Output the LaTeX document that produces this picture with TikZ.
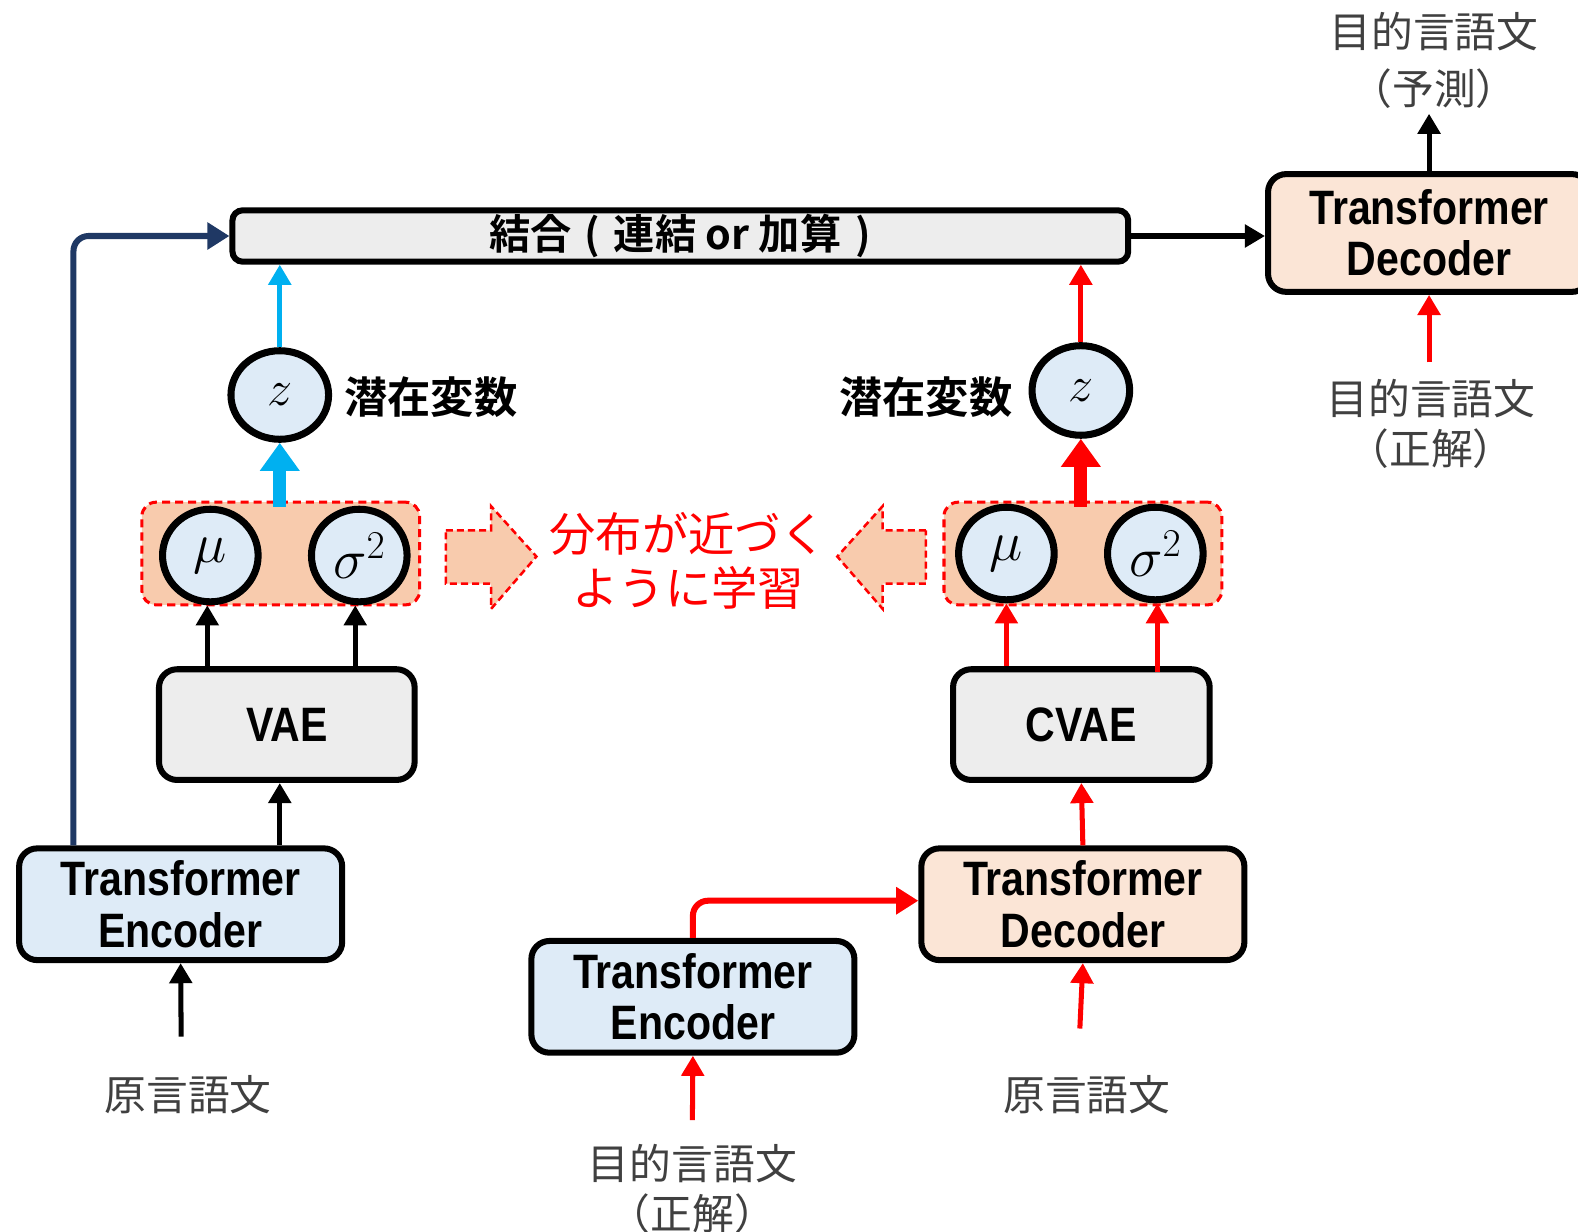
\documentclass[tikz,border=0pt]{standalone}
\usepackage{fix-cm}
\usepackage{fontspec}
\usetikzlibrary{arrows.meta,shapes.geometric}
\setmainfont{Liberation Sans}
\newfontfamily\enf[FakeStretch=0.85]{Liberation Sans}
\newfontfamily\jpf[BoldFont={Noto Sans CJK JP Bold}]{Noto Sans CJK JP}
\definecolor{lblue}{HTML}{DEEBF7}
\definecolor{peach}{HTML}{FBE5D6}
\definecolor{lgray}{HTML}{EDEDED}
\definecolor{salmon}{HTML}{F8CBAD}
\definecolor{navy}{HTML}{1F3864}
\definecolor{cyanb}{HTML}{00B0F0}
\definecolor{txtgray}{HTML}{404040}
\definecolor{myred}{HTML}{FF0000}
\tikzset{
  box/.style={draw=black, line width=6pt, rounded corners=18pt, inner sep=0pt,
    align=center, font=\enf\bfseries\fontsize{48}{51}\selectfont},
  bigbox/.style={box, minimum width=321pt, minimum height=111pt},
  circ/.style={ellipse, draw=black, line width=7pt, fill=lblue, inner sep=0pt},
  dbox/.style={draw=myred, fill=salmon, line width=3pt, dash pattern=on 8pt off 5pt,
    rounded corners=14pt, minimum width=276pt, minimum height=102pt},
  darrow/.style={draw=myred, fill=salmon, line width=2.5pt, dash pattern=on 7pt off 4pt},
  arr/.style={line width=5pt, -{Triangle[length=20pt,width=22pt]}},
  fatarr/.style={line width=13pt, -{Triangle[length=28pt,width=38pt]}},
  jtext/.style={font=\jpf\fontsize{41.5}{50}\selectfont, text=txtgray, align=center, inner sep=0pt},
  jbold/.style={font=\jpf\bfseries\fontsize{43}{50}\selectfont, inner sep=0pt},
  mathlbl/.style={font=\fontsize{56}{56}\selectfont},
  zlbl/.style={font=\fontsize{50}{50}\selectfont},
}
\begin{document}
\begin{tikzpicture}[x=1pt,y=-1pt]
\useasboundingbox (0,0) rectangle (1568,1224);
% concat bar
\node[box, fill=lgray, rounded corners=10pt, minimum width=890pt, minimum height=51pt,
  font=\jpf\bfseries\fontsize{41}{42}\selectfont] (bar) at (676,234.5) {結合\hspace{12pt}(\hspace{14pt}連結 or 加算\hspace{14pt})};
% top decoder
\node[box, fill=peach, minimum width=320pt, minimum height=117pt] (dec2) at (1420,231.5) {Transformer\\Decoder};
\node[jtext, font=\jpf\fontsize{41.5}{56}\selectfont] (pred) at (1425,60) {目的言語文\\（予測）};
\node[jtext] (tgt2) at (1422,421) {目的言語文\\（正解）};
% z nodes
\node[circ, zlbl, minimum width=97pt, minimum height=88pt] (z1) at (278,392.5) {$z$};
\node[circ, zlbl, minimum width=97pt, minimum height=89pt] (z2) at (1074,388) {$z$};
\node[jbold] (lat1) at (428,395) {潜在変数};
\node[jbold] (lat2) at (920,395) {潜在変数};
% dashed boxes
\node[dbox] (db1) at (279,550) {};
\node[dbox] (db2) at (1076,550) {};
\node[circ, mathlbl, minimum width=95pt, minimum height=92pt] (mu1) at (209,552) {$\mu$};
\node[circ, mathlbl, minimum width=95pt, minimum height=92pt] (sg1) at (357,552) {$\sigma^2$};
\node[circ, mathlbl, minimum width=95pt, minimum height=92pt] (mu2) at (1000,550) {$\mu$};
\node[circ, mathlbl, minimum width=95pt, minimum height=92pt] (sg2) at (1148,550) {$\sigma^2$};
% dashed big arrows
\draw[darrow] (443,527) -- (488,527) -- (488,503) -- (533,553) -- (488,605) -- (488,580) -- (443,580) -- cycle;
\draw[darrow] (920,527) -- (877,527) -- (877,503) -- (832,553) -- (877,605) -- (877,580) -- (920,580) -- cycle;
\node[font=\jpf\fontsize{46}{54}\selectfont, text=myred, align=center, inner sep=0pt] (learn) at (684,557) {分布が近づく\\ように学習};
% VAE / CVAE
\node[box, fill=lgray, minimum width=254pt, minimum height=110pt] (vae) at (285,720) {VAE};
\node[box, fill=lgray, minimum width=255pt, minimum height=110pt] (cvae) at (1074.5,720) {CVAE};
% encoders / decoder
\node[bigbox, fill=lblue] (enc1) at (179.5,898.5) {Transformer\\Encoder};
\node[bigbox, fill=lblue] (enc2) at (688.5,990.5) {Transformer\\Encoder};
\node[bigbox, fill=peach] (dec1) at (1076,898.5) {Transformer\\Decoder};
% bottom texts
\node[jtext] (src1) at (187,1088) {原言語文};
\node[jtext] (src2) at (1080,1088) {原言語文};
\node[jtext] (tgt1) at (688,1181) {目的言語文\\（正解）};
% free ends
\coordinate (s1) at (180,1030);
\coordinate (s2) at (688,1113);
\coordinate (s3) at (1073,1022);
\coordinate (s4) at (1420,360);
% connectors
\draw[arr] (dec2.north) -- ++(0,-57);
\draw[arr] (bar.east) -- (bar.east -| dec2.west);
\draw[arr, myred] (s4) -- (dec2.south);
\draw[arr, cyanb] (z1.north) -- (z1.north |- bar.south);
\draw[arr, myred] (z2.north) -- (z2.north |- bar.south);
\draw[fatarr, cyanb] ([yshift=-6pt]db1.north -| z1) -- (z1.south);
\draw[fatarr, myred] ([yshift=-6pt]db2.north -| z2) -- (z2.south);
\draw[arr] ([xshift=-3pt]vae.north -| mu1) -- ([xshift=-3pt]mu1.south);
\draw[arr] ([xshift=-4pt]vae.north -| sg1) -- ([xshift=-4pt]sg1.south);
\draw[arr, myred] (cvae.north -| mu2) -- (mu2.south);
\draw[arr, myred] ([yshift=-6pt,xshift=2pt]cvae.north -| sg2) -- ([xshift=2pt]sg2.south);
\draw[arr] ([xshift=98.5pt]enc1.north) -- ([xshift=-7pt]vae.south);
\draw[line width=6pt, navy, rounded corners=15pt, -{Triangle[length=22pt,width=26pt]}]
  ([xshift=-106.5pt]enc1.north) |- (bar.west);
\draw[arr] (s1) -- (enc1.south);
\draw[arr, myred] (dec1.north) -- (cvae.south);
\draw[arr, myred] (s2) -- (enc2.south);
\draw[arr, myred] (s3) -- (dec1.south);
\draw[line width=6pt, myred, rounded corners=15pt, -{Triangle[length=22pt,width=26pt]}]
  (enc2.north) |- ([yshift=3.5pt]dec1.west);
\end{tikzpicture}
\end{document}
